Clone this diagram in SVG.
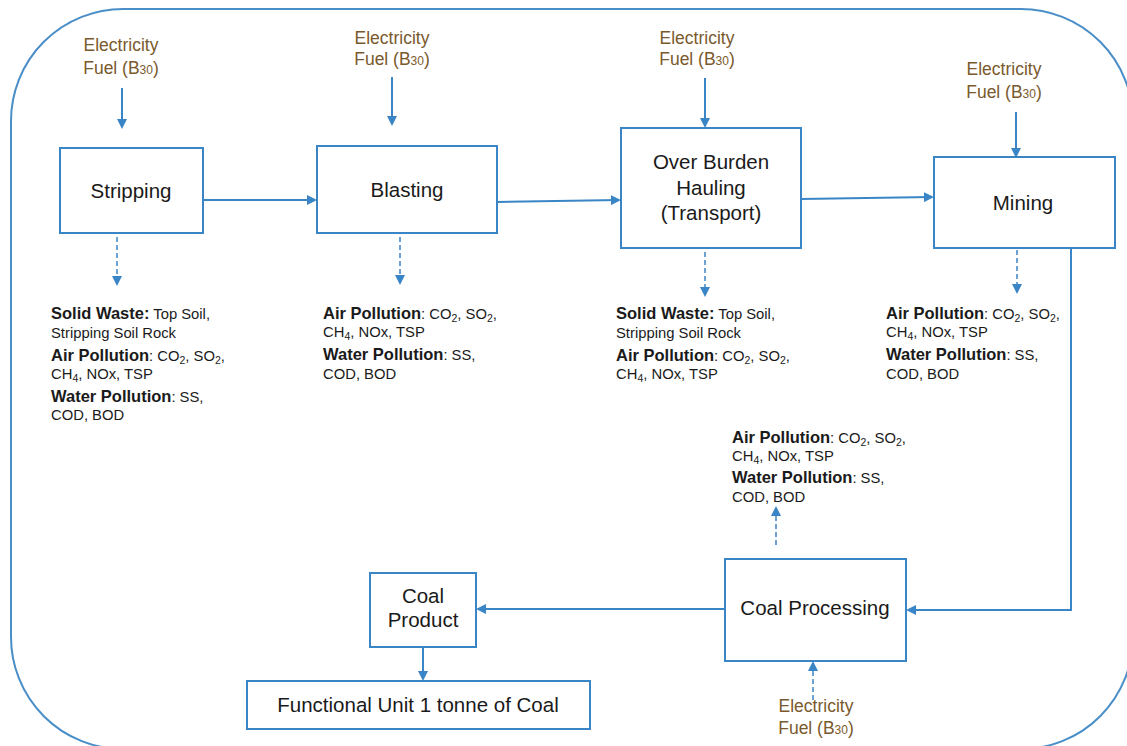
<svg xmlns="http://www.w3.org/2000/svg" width="1127" height="746" viewBox="0 0 1127 746">
<style>
.frame{fill:none;stroke:#4a8ec8;stroke-width:2}
.box{fill:#fff;stroke:#3a85c5;stroke-width:2}
.ln{fill:none;stroke:#3a85c5;stroke-width:2}
.dl{fill:none;stroke:#3a85c5;stroke-width:1.5;stroke-dasharray:5,3}
.lbl{font-family:"Liberation Sans",Arial,sans-serif;font-size:20.5px;fill:#1a1a1a;text-anchor:middle}
.en{font-family:"Liberation Sans",Arial,sans-serif;font-size:17.5px;fill:#7a5a2c;text-anchor:middle}
.em{font-family:"Liberation Sans",Arial,sans-serif;font-size:14.8px;fill:#1a1a1a}
.b{font-weight:bold;font-size:16.5px}
.s{font-size:10.5px}
</style>
<defs>
<marker id="ah" markerWidth="10" markerHeight="10" refX="8" refY="5" orient="auto" markerUnits="userSpaceOnUse">
<path d="M0,0 L10,5 L0,10 z" fill="#3a85c5"/>
</marker>
</defs>
<rect class="frame" x="11" y="9" width="1122" height="740" rx="112" ry="112"/>
<g id="connectors">
<line class="ln" x1="122" y1="88" x2="122" y2="127" marker-end="url(#ah)"/>
<line class="ln" x1="392" y1="77" x2="392" y2="124" marker-end="url(#ah)"/>
<line class="ln" x1="705" y1="78" x2="705" y2="126" marker-end="url(#ah)"/>
<line class="ln" x1="1016" y1="112" x2="1016" y2="156" marker-end="url(#ah)"/>
<line class="ln" x1="203" y1="200" x2="315" y2="200" marker-end="url(#ah)"/>
<line class="ln" x1="497" y1="202" x2="619" y2="200" marker-end="url(#ah)"/>
<line class="ln" x1="801" y1="199" x2="932" y2="197" marker-end="url(#ah)"/>
<polyline class="ln" points="1071,248 1071,610 908,610" marker-end="url(#ah)"/>
<line class="ln" x1="725" y1="609" x2="478" y2="609" marker-end="url(#ah)"/>
<line class="ln" x1="423" y1="647" x2="423" y2="679" marker-end="url(#ah)"/>
<line class="dl" x1="117" y1="237" x2="117" y2="284" marker-end="url(#ah)"/>
<line class="dl" x1="400" y1="237" x2="400" y2="283" marker-end="url(#ah)"/>
<line class="dl" x1="705" y1="252" x2="705" y2="295" marker-end="url(#ah)"/>
<line class="dl" x1="1017" y1="250" x2="1017" y2="292" marker-end="url(#ah)"/>
<line class="dl" x1="776" y1="545" x2="776" y2="508" marker-end="url(#ah)"/>
<line class="dl" x1="813" y1="700" x2="813" y2="663" marker-end="url(#ah)"/>
</g>
<g id="stripping">
<rect class="box" x="60" y="148" width="143" height="85"/>
<text class="lbl" x="131" y="198">Stripping</text>
</g>
<g id="blasting">
<rect class="box" x="317" y="146" width="180" height="87"/>
<text class="lbl" x="407" y="197">Blasting</text>
</g>
<g id="hauling">
<rect class="box" x="621" y="128" width="180" height="120"/>
<text class="lbl" x="711" y="169">Over Burden</text>
<text class="lbl" x="711" y="195">Hauling</text>
<text class="lbl" x="711" y="220">(Transport)</text>
</g>
<g id="mining">
<rect class="box" x="934" y="157" width="181" height="91"/>
<text class="lbl" x="1023" y="210">Mining</text>
</g>
<g id="coal-processing">
<rect class="box" x="725" y="559" width="181" height="102"/>
<text class="lbl" x="815" y="615">Coal Processing</text>
</g>
<g id="coal-product">
<rect class="box" x="370" y="573" width="106" height="74"/>
<text class="lbl" x="423" y="603">Coal</text>
<text class="lbl" x="423" y="627">Product</text>
</g>
<g id="functional-unit">
<rect class="box" x="247" y="681" width="343" height="48"/>
<text class="lbl" x="418" y="712">Functional Unit 1 tonne of Coal</text>
</g>
<g id="inputs">
<text class="en" x="121" y="51">Electricity</text>
<text class="en" x="121" y="74">Fuel (B<tspan font-size="12">30</tspan>)</text>
<text class="en" x="392" y="44">Electricity</text>
<text class="en" x="392" y="65">Fuel (B<tspan font-size="12">30</tspan>)</text>
<text class="en" x="697" y="44">Electricity</text>
<text class="en" x="697" y="65">Fuel (B<tspan font-size="12">30</tspan>)</text>
<text class="en" x="1004" y="75">Electricity</text>
<text class="en" x="1004" y="98">Fuel (B<tspan font-size="12">30</tspan>)</text>
<text class="en" x="816" y="712">Electricity</text>
<text class="en" x="816" y="734">Fuel (B<tspan font-size="12">30</tspan>)</text>
</g>
<g id="emissions-stripping" class="em">
<text x="51" y="319"><tspan class="b">Solid Waste:</tspan> Top Soil,</text>
<text x="51" y="338">Stripping Soil Rock</text>
<text x="51" y="361"><tspan class="b">Air Pollution</tspan>: CO<tspan class="s" dy="3">2</tspan><tspan dy="-3">, SO</tspan><tspan class="s" dy="3">2</tspan><tspan dy="-3">,</tspan></text>
<text x="51" y="379">CH<tspan class="s" dy="3">4</tspan><tspan dy="-3">, NOx, TSP</tspan></text>
<text x="51" y="402"><tspan class="b">Water Pollution</tspan>: SS,</text>
<text x="51" y="420">COD, BOD</text>
</g>
<g id="emissions-blasting" class="em">
<text x="323" y="319"><tspan class="b">Air Pollution</tspan>: CO<tspan class="s" dy="3">2</tspan><tspan dy="-3">, SO</tspan><tspan class="s" dy="3">2</tspan><tspan dy="-3">,</tspan></text>
<text x="323" y="337">CH<tspan class="s" dy="3">4</tspan><tspan dy="-3">, NOx, TSP</tspan></text>
<text x="323" y="360"><tspan class="b">Water Pollution</tspan>: SS,</text>
<text x="323" y="379">COD, BOD</text>
</g>
<g id="emissions-hauling" class="em">
<text x="616" y="319"><tspan class="b">Solid Waste:</tspan> Top Soil,</text>
<text x="616" y="338">Stripping Soil Rock</text>
<text x="616" y="361"><tspan class="b">Air Pollution</tspan>: CO<tspan class="s" dy="3">2</tspan><tspan dy="-3">, SO</tspan><tspan class="s" dy="3">2</tspan><tspan dy="-3">,</tspan></text>
<text x="616" y="379">CH<tspan class="s" dy="3">4</tspan><tspan dy="-3">, NOx, TSP</tspan></text>
</g>
<g id="emissions-mining" class="em">
<text x="886" y="319"><tspan class="b">Air Pollution</tspan>: CO<tspan class="s" dy="3">2</tspan><tspan dy="-3">, SO</tspan><tspan class="s" dy="3">2</tspan><tspan dy="-3">,</tspan></text>
<text x="886" y="337">CH<tspan class="s" dy="3">4</tspan><tspan dy="-3">, NOx, TSP</tspan></text>
<text x="886" y="360"><tspan class="b">Water Pollution</tspan>: SS,</text>
<text x="886" y="379">COD, BOD</text>
</g>
<g id="emissions-processing" class="em">
<text x="732" y="443"><tspan class="b">Air Pollution</tspan>: CO<tspan class="s" dy="3">2</tspan><tspan dy="-3">, SO</tspan><tspan class="s" dy="3">2</tspan><tspan dy="-3">,</tspan></text>
<text x="732" y="461">CH<tspan class="s" dy="3">4</tspan><tspan dy="-3">, NOx, TSP</tspan></text>
<text x="732" y="483"><tspan class="b">Water Pollution</tspan>: SS,</text>
<text x="732" y="502">COD, BOD</text>
</g>
</svg>
